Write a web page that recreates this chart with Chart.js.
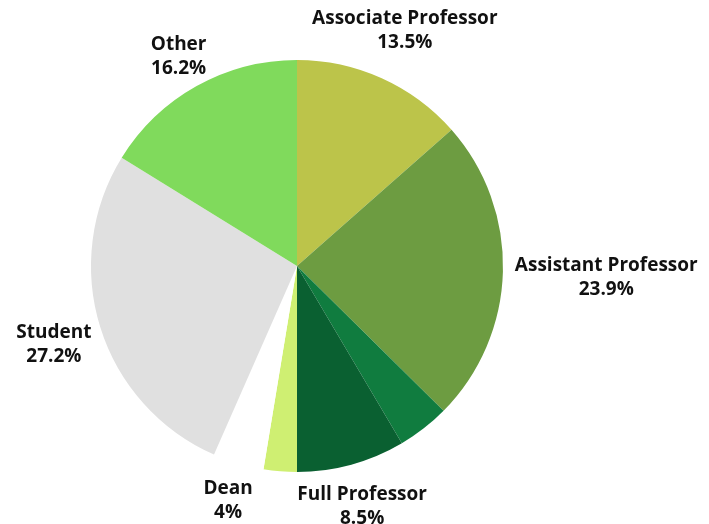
<!DOCTYPE html>
<html>
<head>
<meta charset="utf-8">
<script src="https://cdn.jsdelivr.net/npm/chart.js@4/dist/chart.umd.min.js"></script>
<style>
  html, body { margin: 0; padding: 0; background: #fff; }
  #wrap { width: 709px; height: 524px; }
</style>
</head>
<body>
<div id="wrap"><canvas id="pie"></canvas></div>
<script>
// slices, clockwise from 12 o'clock ('' = no label in the original)
const categories = ['Associate Professor', 'Assistant Professor', '', 'Full Professor', '', 'Dean', 'Student', 'Other'];
const shares = [13.5, 23.9, 4.1, 8.5, 2.6, 4, 27.2, 16.2];
const colors = ['#bcc44a', '#6d9c41', '#107c3f', '#0a6031', '#cfef72', '#ffffff', '#e0e0e0', '#80da5c'];

// labels outside the pie, two lines: name + percent
const outsideLabels = {
  id: 'outsideLabels',
  afterDraw(chart) {
    const ctx = chart.ctx;
    const meta = chart.getDatasetMeta(0);
    const lineH = 24;
    ctx.save();
    ctx.font = 'bold 19px "Open Sans"';
    ctx.fillStyle = '#111';
    ctx.textAlign = 'center';
    ctx.textBaseline = 'middle';
    meta.data.forEach((arc, i) => {
      const name = categories[i];
      if (!name) return;
      const pct = shares[i] + '%';
      const mid = (arc.startAngle + arc.endAngle) / 2;
      const ux = Math.cos(mid), uy = Math.sin(mid);
      const w = Math.max(ctx.measureText(name).width, ctx.measureText(pct).width);
      // elliptic clearance of the text box
      const half = Math.hypot(w / 2 * ux, 24 * uy);
      const d = arc.outerRadius + 12 + half;
      const cx = arc.x + ux * d, cy = arc.y + uy * d + 3;
      ctx.fillText(name, cx, cy - lineH / 2);
      ctx.fillText(pct, cx, cy + lineH / 2);
    });
    ctx.restore();
  }
};

new Chart(document.getElementById('pie'), {
  type: 'pie',
  data: {
    labels: categories,
    datasets: [{
      data: shares,
      backgroundColor: colors,
      borderWidth: 0
    }]
  },
  options: {
    responsive: true,
    maintainAspectRatio: false,
    animation: false,
    layout: { padding: { top: 60, bottom: 52, left: 91, right: 206 } },
    plugins: { legend: { display: false }, tooltip: { enabled: false } }
  },
  plugins: [outsideLabels]
});
</script>
</body>
</html>
